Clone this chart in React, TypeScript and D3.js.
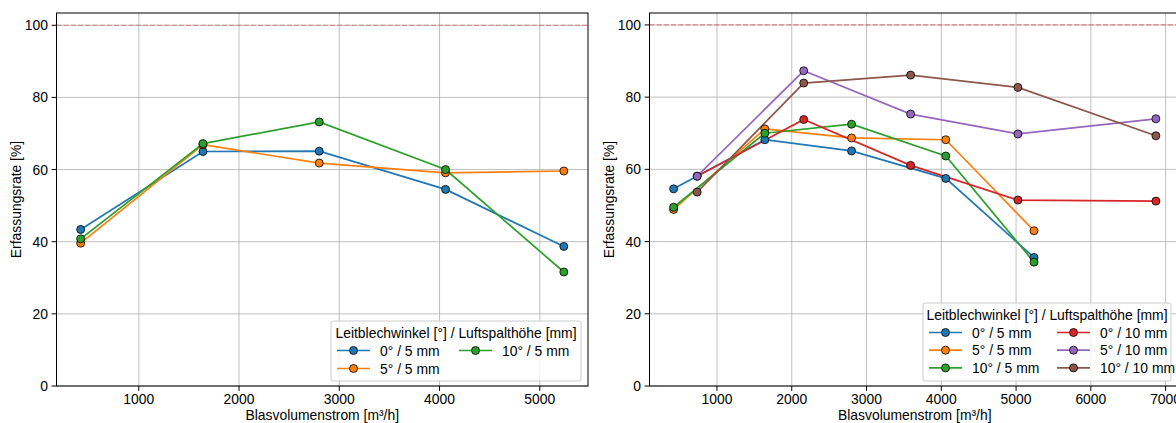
import React from "react";
import * as d3 from "d3";

const xTicksLeft = [1000, 2000, 3000, 4000, 5000];
const xTicksRight = [1000, 2000, 3000, 4000, 5000, 6000, 7000];
const yTicks = [0, 20, 40, 60, 80, 100];

const x5mm = [420, 1640, 2800, 4060, 5240];
const x10mm = [735, 2160, 3590, 5025, 6870];

// Left chart series
const leftBlue = [43.4, 65.0, 65.1, 54.5, 38.7];
const leftOrange = [39.6, 66.9, 61.8, 59.1, 59.6];
const leftGreen = [40.8, 67.2, 73.2, 60.0, 31.6];

// Right chart series
const rightBlue = [54.6, 68.2, 65.1, 57.5, 35.6];
const rightOrange = [48.9, 71.2, 68.7, 68.2, 43.0];
const rightGreen = [49.5, 70.0, 72.5, 63.7, 34.3];
const rightRed = [58.1, 73.8, 61.1, 51.5, 51.2];
const rightPurple = [58.1, 87.3, 75.3, 69.8, 74.0];
const rightBrown = [53.7, 83.9, 86.1, 82.7, 69.3];

const legendTitle = "Leitblechwinkel [°] / Luftspalthöhe [mm]";
const xLabel = "Blasvolumenstrom [m³/h]";
const yLabel = "Erfassungsrate [%]";

const C = {
  blue: "#1f77b4",
  orange: "#ff7f0e",
  green: "#2ca02c",
  red: "#d62728",
  purple: "#9467bd",
  brown: "#8c564b",
};

type Series = { label: string; color: string; xs: number[]; ys: number[] };

const leftSeries: Series[] = [
  { label: "0° / 5 mm", color: C.blue, xs: x5mm, ys: leftBlue },
  { label: "5° / 5 mm", color: C.orange, xs: x5mm, ys: leftOrange },
  { label: "10° / 5 mm", color: C.green, xs: x5mm, ys: leftGreen },
];

const rightSeries: Series[] = [
  { label: "0° / 5 mm", color: C.blue, xs: x5mm, ys: rightBlue },
  { label: "5° / 5 mm", color: C.orange, xs: x5mm, ys: rightOrange },
  { label: "10° / 5 mm", color: C.green, xs: x5mm, ys: rightGreen },
  { label: "0° / 10 mm", color: C.red, xs: x10mm, ys: rightRed },
  { label: "5° / 10 mm", color: C.purple, xs: x10mm, ys: rightPurple },
  { label: "10° / 10 mm", color: C.brown, xs: x10mm, ys: rightBrown },
];

const FONT = "'Liberation Sans', Arial, Helvetica, sans-serif";
const FS = 13.9;

type PanelProps = {
  x0: number;
  x1: number;
  y0: number;
  y1: number;
  series: Series[];
  xTicks: number[];
  yMax: number;
  legend: { x: number; y: number; w: number; h: number; col2: number; rowH: number; ncolRows: number };
};

function Panel({ x0, x1, y0, y1, series, xTicks, yMax, legend }: PanelProps) {
  const allX = series.flatMap((s) => s.xs);
  const [mn, mx] = d3.extent(allX) as [number, number];
  const pad = (mx - mn) * 0.05;
  const xs = d3.scaleLinear().domain([mn - pad, mx + pad]).range([x0, x1]);
  const ys = d3.scaleLinear().domain([0, yMax]).range([y1, y0]);
  const line = d3
    .line<[number, number]>()
    .x((d) => xs(d[0]))
    .y((d) => ys(d[1]));
  const clipId = `clip-${Math.round(x0)}`;
  const ncol1 = legend.ncolRows;
  return (
    <g>
      <defs>
        <clipPath id={clipId}>
          <rect x={x0} y={y0} width={x1 - x0} height={y1 - y0} />
        </clipPath>
      </defs>
      <g stroke="#b0b0b0" strokeWidth={0.8}>
        {xTicks.map((t) => (
          <line key={"gx" + t} x1={xs(t)} x2={xs(t)} y1={y0} y2={y1} />
        ))}
        {yTicks.map((t) => (
          <line key={"gy" + t} x1={x0} x2={x1} y1={ys(t)} y2={ys(t)} />
        ))}
      </g>
      <line
        x1={x0}
        x2={x1}
        y1={ys(100)}
        y2={ys(100)}
        stroke={C.red}
        strokeOpacity={0.5}
        strokeWidth={1.2}
        strokeDasharray="5,2.2"
      />
      <g clipPath={`url(#${clipId})`}>
        {series.map((s) => (
          <path
            key={"l" + s.label}
            d={line(s.xs.map((x, i) => [x, s.ys[i]] as [number, number])) || ""}
            fill="none"
            stroke={s.color}
            strokeWidth={1.7}
          />
        ))}
        {series.map((s) =>
          s.xs.map((x, i) => (
            <circle
              key={"m" + s.label + i}
              cx={xs(x)}
              cy={ys(s.ys[i])}
              r={4}
              fill={s.color}
              stroke="#000"
              strokeWidth={0.8}
            />
          ))
        )}
      </g>
      <rect x={x0} y={y0} width={x1 - x0} height={y1 - y0} fill="none" stroke="#000" strokeWidth={1} />
      <g fontFamily={FONT} fontSize={FS} fill="#000">
        {xTicks.map((t) => (
          <g key={"tx" + t}>
            <line x1={xs(t)} x2={xs(t)} y1={y1} y2={y1 + 4.9} stroke="#000" strokeWidth={1} />
            <text x={xs(t)} y={y1 + 8} textAnchor="middle" dominantBaseline="hanging">
              {t}
            </text>
          </g>
        ))}
        {yTicks.map((t) => (
          <g key={"ty" + t}>
            <line x1={x0 - 4.9} x2={x0} y1={ys(t)} y2={ys(t)} stroke="#000" strokeWidth={1} />
            <text x={x0 - 8.5} y={ys(t)} textAnchor="end" dominantBaseline="central">
              {t}
            </text>
          </g>
        ))}
        <text x={(x0 + x1) / 2} y={y1 + 29} textAnchor="middle" dominantBaseline="central">
          {xLabel}
        </text>
        <text
          transform={`translate(${x0 - 40.5},${(y0 + y1) / 2}) rotate(-90)`}
          textAnchor="middle"
          dominantBaseline="central"
        >
          {yLabel}
        </text>
      </g>
      <g fontFamily={FONT} fontSize={FS}>
        <rect
          x={legend.x}
          y={legend.y}
          width={legend.w}
          height={legend.h}
          fill="#fff"
          fillOpacity={0.8}
          stroke="#cccccc"
          strokeWidth={1}
          rx={2}
        />
        <text x={legend.x + legend.w / 2} y={legend.y + 11.5} textAnchor="middle" dominantBaseline="central">
          {legendTitle}
        </text>
        {series.map((s, i) => {
          const col = Math.floor(i / ncol1);
          const row = i % ncol1;
          const lx = legend.x + 6 + col * legend.col2;
          const ly = legend.y + 29.5 + row * legend.rowH;
          return (
            <g key={"lg" + s.label}>
              <line x1={lx} x2={lx + 33} y1={ly} y2={ly} stroke={s.color} strokeWidth={1.7} />
              <circle cx={lx + 16.5} cy={ly} r={4} fill={s.color} stroke="#000" strokeWidth={0.8} />
              <text x={lx + 43} y={ly} dominantBaseline="central">
                {s.label}
              </text>
            </g>
          );
        })}
      </g>
    </g>
  );
}

export default function App() {
  return (
    <svg
      width={1176}
      height={423}
      style={{ position: "absolute", left: 0, top: 0, background: "#fff" }}
    >
      <rect x={0} y={0} width={1176} height={423} fill="#fff" />
      <Panel
        x0={56.5}
        x1={588}
        y0={13}
        y1={386}
        series={leftSeries}
        xTicks={xTicksLeft}
        yMax={103.4}
        legend={{ x: 331, y: 321, w: 250, h: 60, col2: 122, rowH: 18, ncolRows: 2 }}
      />
      <Panel
        x0={649.5}
        x1={1180}
        y0={13}
        y1={386}
        series={rightSeries}
        xTicks={xTicksRight}
        yMax={103.3}
        legend={{ x: 923, y: 303, w: 248, h: 78, col2: 128, rowH: 17.7, ncolRows: 3 }}
      />
    </svg>
  );
}
